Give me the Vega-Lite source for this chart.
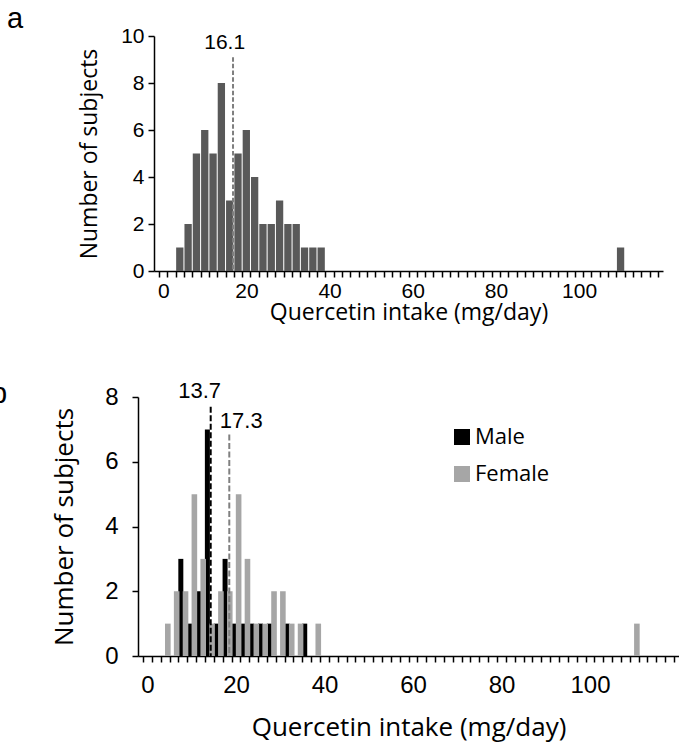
{
  "$schema": "https://vega.github.io/schema/vega-lite/v6.json",
  "padding": {"left": -9, "top": 5, "right": 0, "bottom": 5},
  "bounds": "flush",
  "spacing": 126,
  "resolve": {"scale": {"color": "independent"}, "legend": {"color": "independent"}},
  "config": {
    "view": {"stroke": null},
    "axis": {"domainColor": "#000", "tickColor": "#000", "domainWidth": 1.5, "tickWidth": 1.5, "labelColor": "#000", "titleColor": "#000", "grid": false, "labelFont": "Liberation Sans", "titleFont": "Open Sans", "titleFontWeight": "normal"},
    "legend": {"labelFont": "Open Sans", "labelColor": "#000"}
  },
  "datasets": {
    "total": [
      {"intake": 4, "count": 1}, {"intake": 6, "count": 2}, {"intake": 8, "count": 5}, {"intake": 10, "count": 6},
      {"intake": 12, "count": 5}, {"intake": 14, "count": 8}, {"intake": 16, "count": 3}, {"intake": 18, "count": 5},
      {"intake": 20, "count": 6}, {"intake": 22, "count": 4}, {"intake": 24, "count": 2}, {"intake": 26, "count": 2},
      {"intake": 28, "count": 3}, {"intake": 30, "count": 2}, {"intake": 32, "count": 2}, {"intake": 34, "count": 1},
      {"intake": 36, "count": 1}, {"intake": 38, "count": 1}, {"intake": 110, "count": 1}
    ],
    "bysex": [
      {"intake": 8, "count": 3, "sex": "Male"}, {"intake": 10, "count": 1, "sex": "Male"}, {"intake": 12, "count": 2, "sex": "Male"},
      {"intake": 14, "count": 7, "sex": "Male"}, {"intake": 16, "count": 1, "sex": "Male"}, {"intake": 18, "count": 3, "sex": "Male"},
      {"intake": 20, "count": 1, "sex": "Male"}, {"intake": 22, "count": 1, "sex": "Male"}, {"intake": 24, "count": 1, "sex": "Male"},
      {"intake": 26, "count": 1, "sex": "Male"}, {"intake": 28, "count": 1, "sex": "Male"}, {"intake": 32, "count": 1, "sex": "Male"},
      {"intake": 36, "count": 1, "sex": "Male"},
      {"intake": 4, "count": 1, "sex": "Female"}, {"intake": 6, "count": 2, "sex": "Female"}, {"intake": 8, "count": 2, "sex": "Female"},
      {"intake": 10, "count": 5, "sex": "Female"}, {"intake": 12, "count": 3, "sex": "Female"}, {"intake": 14, "count": 1, "sex": "Female"},
      {"intake": 16, "count": 2, "sex": "Female"}, {"intake": 18, "count": 2, "sex": "Female"}, {"intake": 20, "count": 5, "sex": "Female"},
      {"intake": 22, "count": 3, "sex": "Female"}, {"intake": 24, "count": 1, "sex": "Female"}, {"intake": 26, "count": 1, "sex": "Female"},
      {"intake": 28, "count": 2, "sex": "Female"}, {"intake": 30, "count": 2, "sex": "Female"}, {"intake": 32, "count": 1, "sex": "Female"},
      {"intake": 34, "count": 1, "sex": "Female"}, {"intake": 38, "count": 1, "sex": "Female"}, {"intake": 110, "count": 1, "sex": "Female"}
    ],
    "means": [
      {"panel": "a", "group": "All", "intake": 16.8, "top": 9.1, "base": 0, "label": "16.1", "labelX": 14.8, "labelY": 9.7},
      {"panel": "b", "group": "Male", "intake": 14.3, "top": 7.7, "base": 0, "label": "13.7", "labelX": 11.8, "labelY": 8.2},
      {"panel": "b", "group": "Female", "intake": 18.5, "top": 6.84, "base": 0, "label": "17.3", "labelX": 21.2, "labelY": 7.27}
    ]
  },
  "vconcat": [
    {
      "title": {"text": "a", "anchor": "start", "frame": "group", "dx": -131, "dy": 9, "fontSize": 29, "font": "Liberation Sans", "fontWeight": "normal", "color": "#000", "offset": 0},
      "width": 525,
      "height": 235,
      "layer": [
        {
          "data": {"name": "total"},
          "mark": {"type": "bar", "orient": "vertical", "color": "#595959", "width": 7.3},
          "encoding": {
            "x": {"field": "intake", "type": "quantitative", "title": "Quercetin intake (mg/day)",
              "scale": {"domain": [-1, 119], "range": [16, 525], "nice": false, "zero": false},
              "axis": {"values": [-1,1,3,5,7,9,11,13,15,17,19,21,23,25,27,29,31,33,35,37,39,41,43,45,47,49,51,53,55,57,59,61,63,65,67,69,71,73,75,77,79,81,83,85,87,89,91,93,95,97,99,101,103,105,107,109,111,113,115,117,119],
                "tickCount": 200,
                "labelExpr": "((datum.value + 1) % 20 == 0 && datum.value < 110) ? format(datum.value + 1, 'd') : ''",
                "labelOffset": 4.24, "labelFlush": false, "labelOverlap": false, "labelFontSize": 21, "labelPadding": 3,
                "tickSize": 6, "titleFontSize": 23, "titlePadding": 0}},
            "y": {"field": "count", "type": "quantitative", "title": "Number of subjects",
              "scale": {"domain": [0, 10], "nice": false},
              "axis": {"values": [0, 2, 4, 6, 8, 10], "offset": -16, "labelFontSize": 21, "labelPadding": 4, "tickSize": 6, "titleFontSize": 23, "titlePadding": 19}}
          }
        },
        {
          "data": {"name": "means"},
          "transform": [{"filter": "datum.panel == 'a'"}],
          "mark": {"type": "rule", "color": "#7f7f7f", "strokeWidth": 2, "strokeDash": [4.5, 2.2]},
          "encoding": {
            "x": {"field": "intake", "type": "quantitative", "title": "Quercetin intake (mg/day)"},
            "y": {"field": "top", "type": "quantitative", "title": "Number of subjects"},
            "y2": {"field": "base"}
          }
        },
        {
          "data": {"name": "means"},
          "transform": [{"filter": "datum.panel == 'a'"}],
          "mark": {"type": "text", "font": "Liberation Sans", "fontSize": 21, "color": "#000", "baseline": "middle", "clip": false},
          "encoding": {
            "x": {"field": "labelX", "type": "quantitative", "title": "Quercetin intake (mg/day)"},
            "y": {"field": "labelY", "type": "quantitative", "title": "Number of subjects"},
            "text": {"field": "label"}
          }
        }
      ]
    },
    {
      "title": {"text": "b", "anchor": "start", "frame": "group", "dx": -147, "dy": 29, "fontSize": 29, "font": "Liberation Sans", "fontWeight": "normal", "color": "#000", "offset": 0},
      "width": 541,
      "height": 259,
      "layer": [
        {
          "data": {"name": "bysex"},
          "transform": [{"filter": "datum.sex == 'Male'"}],
          "mark": {"type": "bar", "orient": "vertical", "width": 5, "xOffset": -2.0},
          "encoding": {
            "x": {"field": "intake", "type": "quantitative", "title": "Quercetin intake (mg/day)",
              "scale": {"domain": [-1, 119], "nice": false, "zero": false},
              "axis": {"values": [-1,1,3,5,7,9,11,13,15,17,19,21,23,25,27,29,31,33,35,37,39,41,43,45,47,49,51,53,55,57,59,61,63,65,67,69,71,73,75,77,79,81,83,85,87,89,91,93,95,97,99,101,103,105,107,109,111,113,115,117,119],
                "tickCount": 200,
                "labelExpr": "((datum.value + 1) % 20 == 0 && datum.value < 110) ? format(datum.value + 1, 'd') : ''",
                "labelOffset": 4.51, "labelFlush": false, "labelOverlap": false, "labelFontSize": 24, "labelPadding": 11,
                "tickSize": 6, "titleFontSize": 26, "titlePadding": 17}},
            "y": {"field": "count", "type": "quantitative", "title": "Number of subjects",
              "scale": {"domain": [0, 8], "nice": false},
              "axis": {"values": [0, 2, 4, 6, 8], "labelFontSize": 24, "labelPadding": 14, "tickSize": 6, "titleFontSize": 26, "titlePadding": 27}},
            "color": {"field": "sex", "type": "nominal", "scale": {"domain": ["Male", "Female"], "range": ["#000000", "#a6a6a6"]},
              "legend": {"title": null, "orient": "none", "legendX": 313, "legendY": 29, "symbolType": "square", "symbolSize": 256, "symbolStrokeWidth": 0, "labelFontSize": 22, "labelOffset": 2, "rowPadding": 15, "padding": 0}}
          }
        },
        {
          "data": {"name": "bysex"},
          "transform": [{"filter": "datum.sex == 'Female'"}],
          "mark": {"type": "bar", "orient": "vertical", "width": 5.6, "xOffset": 2.7},
          "encoding": {
            "x": {"field": "intake", "type": "quantitative", "title": "Quercetin intake (mg/day)"},
            "y": {"field": "count", "type": "quantitative", "title": "Number of subjects"},
            "color": {"field": "sex", "type": "nominal"}
          }
        },
        {
          "data": {"name": "means"},
          "transform": [{"filter": "datum.group == 'Male'"}],
          "mark": {"type": "rule", "color": "#000000", "strokeWidth": 2, "strokeDash": [6, 2.5]},
          "encoding": {
            "x": {"field": "intake", "type": "quantitative", "title": "Quercetin intake (mg/day)"},
            "y": {"field": "top", "type": "quantitative", "title": "Number of subjects"},
            "y2": {"field": "base"}
          }
        },
        {
          "data": {"name": "means"},
          "transform": [{"filter": "datum.group == 'Female'"}],
          "mark": {"type": "rule", "color": "#808080", "strokeWidth": 2, "strokeDash": [6, 2.5]},
          "encoding": {
            "x": {"field": "intake", "type": "quantitative", "title": "Quercetin intake (mg/day)"},
            "y": {"field": "top", "type": "quantitative", "title": "Number of subjects"},
            "y2": {"field": "base"}
          }
        },
        {
          "data": {"name": "means"},
          "transform": [{"filter": "datum.panel == 'b'"}],
          "mark": {"type": "text", "font": "Liberation Sans", "fontSize": 22, "color": "#000", "baseline": "middle", "clip": false},
          "encoding": {
            "x": {"field": "labelX", "type": "quantitative", "title": "Quercetin intake (mg/day)"},
            "y": {"field": "labelY", "type": "quantitative", "title": "Number of subjects"},
            "text": {"field": "label"}
          }
        }
      ]
    }
  ]
}
